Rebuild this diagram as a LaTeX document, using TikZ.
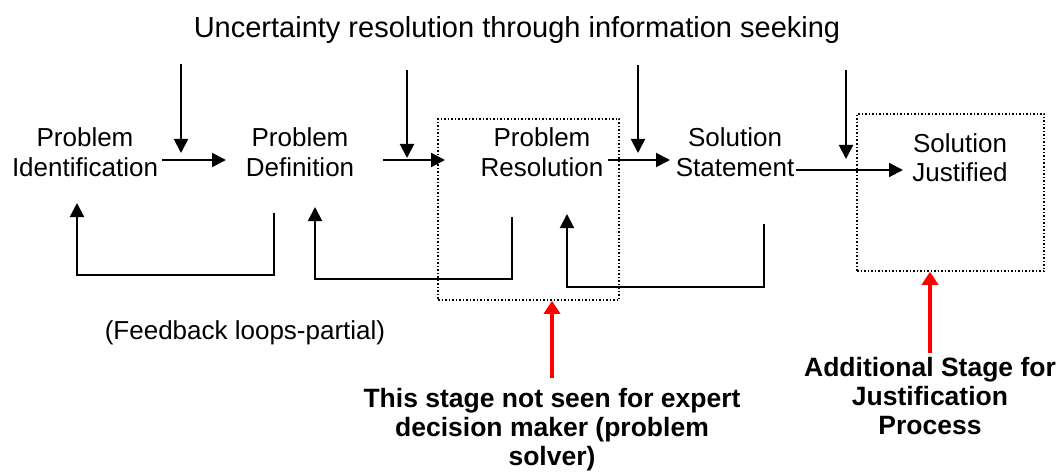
\documentclass[tikz,border=0pt]{standalone}
\usepackage{fontspec}
\setmainfont{Liberation Sans}
\usetikzlibrary{arrows.meta}
\begin{document}
\begin{tikzpicture}[x=1pt,y=-1pt,
  lbl/.style={font=\fontsize{26}{29.5}\selectfont, align=center, inner sep=0pt, anchor=base},
  titlelbl/.style={font=\fontsize{29}{32}\selectfont, inner sep=0pt, anchor=base},
  boldlbl/.style={font=\fontsize{26.5}{29}\selectfont\bfseries, align=center, inner sep=0pt, anchor=base},
  flow/.style={line width=2pt, -{Triangle[length=14pt,width=14pt]}},
  redarrow/.style={draw=red, line width=4pt, -{Triangle[length=13pt,width=16pt]}},
  stagebox/.style={draw, dotted, line width=1.5pt, inner sep=0pt}]
\useasboundingbox (0,0) rectangle (1060,476);

% title
\node[titlelbl] (title) at (517,38) {Uncertainty resolution through information seeking};

% stages (anchor base = baseline of last line)
\node[lbl] (pi) at (85,176) {Problem\\Identification};
\node[lbl] (pd) at (300,176) {Problem\\Definition};
\node[lbl] (pr) at (542,176) {Problem\\Resolution};
\node[lbl] (ss) at (735,176) {Solution\\Statement};
\node[lbl] (sj) at (960,182) {Solution\\Justified};

% dotted stage boxes
\node[stagebox, minimum width=181pt, minimum height=181pt] (box1) at (528.5,209.5) {};
\node[stagebox, minimum width=187pt, minimum height=157pt] (box2) at (950.5,192.5) {};

% other texts
\node[lbl] (fb) at (245,339) {(Feedback loops-partial)};
\node[boldlbl] (note1) at (552,465) {This stage not seen for expert\\decision maker (problem\\solver)};
\node[boldlbl] (note2) at (930,434) {Additional Stage for\\Justification\\Process};

% coordinates for connectors
\coordinate (d1a) at (181,64);  \coordinate (d1b) at (181,153);
\coordinate (d2a) at (407,70);  \coordinate (d2b) at (407,158);
\coordinate (d3a) at (638,65);  \coordinate (d3b) at (638,153);
\coordinate (d4a) at (846,70);  \coordinate (d4b) at (846,159);

\coordinate (h1a) at (162,160); \coordinate (h1b) at (226,160);
\coordinate (h2a) at (383,160); \coordinate (h2b) at (445,160);
\coordinate (h3a) at (608,160); \coordinate (h3b) at (670,160);
\coordinate (h4a) at (796,170); \coordinate (h4b) at (903,170);

\coordinate (l1a) at (274,213); \coordinate (l1b) at (77,203);
\coordinate (l2a) at (512,217); \coordinate (l2b) at (315,207);
\coordinate (l3a) at (764,224); \coordinate (l3b) at (567,214);

\coordinate (r1) at (552,378);
\coordinate (r2) at (930,353);

% information seeking arrows
\draw[flow] (d1a) -- (d1b);
\draw[flow] (d2a) -- (d2b);
\draw[flow] (d3a) -- (d3b);
\draw[flow] (d4a) -- (d4b);

% forward arrows
\draw[flow] (h1a) -- (h1b);
\draw[flow] (h2a) -- (h2b);
\draw[flow] (h3a) -- (h3b);
\draw[flow] (h4a) -- (h4b);

% feedback loops
\draw[flow] (l1a) -- ++(0,62) -| (l1b);
\draw[flow] (l2a) -- ++(0,62) -| (l2b);
\draw[flow] (l3a) -- ++(0,63) -| (l3b);

% red arrows
\draw[redarrow] (r1) -- (r1 |- box1.south);
\draw[redarrow] (r2) -- (r2 |- box2.south);
\end{tikzpicture}
\end{document}
